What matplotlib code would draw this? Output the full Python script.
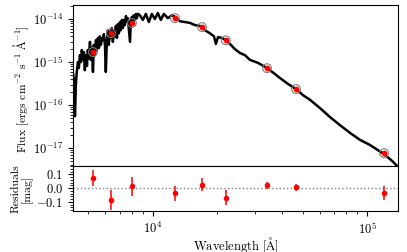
import numpy as np
import matplotlib
matplotlib.use("Agg")
import matplotlib.pyplot as plt
from matplotlib.ticker import AutoMinorLocator

plt.rcParams["font.family"] = "serif"
plt.rcParams["font.serif"] = ["cmr10", "DejaVu Serif"]
plt.rcParams["mathtext.fontset"] = "cm"
plt.rcParams["axes.formatter.use_mathtext"] = True
plt.rcParams["axes.unicode_minus"] = False

# model spectrum (log10 wavelength [A], log10 flux)
spec_logwave = [
    3.626, 3.631, 3.636, 3.640, 3.645, 3.650, 3.654, 3.659, 3.664, 3.668,
    3.673, 3.678, 3.682, 3.687, 3.692, 3.696, 3.701, 3.706, 3.710, 3.715,
    3.720, 3.724, 3.729, 3.734, 3.738, 3.743, 3.748, 3.752, 3.757, 3.762,
    3.766, 3.771, 3.776, 3.780, 3.785, 3.790, 3.794, 3.799, 3.804, 3.808,
    3.813, 3.818, 3.822, 3.827, 3.832, 3.836, 3.841, 3.846, 3.850, 3.855,
    3.860, 3.864, 3.869, 3.874, 3.879, 3.883, 3.893, 3.897, 3.902, 3.907,
    3.911, 3.916, 3.921, 3.925, 3.930, 3.939, 3.953, 3.967, 3.981, 3.995,
    4.009, 4.023, 4.037, 4.051, 4.070, 4.089, 4.103, 4.126, 4.150, 4.173,
    4.196, 4.220, 4.243, 4.266, 4.285, 4.294, 4.304, 4.322, 4.341, 4.360,
    4.383, 4.407, 4.430, 4.453, 4.491, 4.533, 4.565, 4.593, 4.631, 4.668,
    4.701, 4.734, 4.780, 4.827, 4.874, 4.921, 4.967, 5.014, 5.051, 5.079,
    5.117, 5.145,
]
spec_logflux = [
    -15.23, -15.42, -16.26, -15.53, -15.19, -15.00, -15.14, -14.84, -15.00, -14.72,
    -14.95, -14.77, -15.19, -14.84, -15.09, -14.72, -14.91, -14.53, -14.95, -14.67,
    -15.23, -14.60, -14.84, -14.49, -14.72, -14.44, -14.67, -14.40, -14.60, -14.45,
    -14.49, -14.35, -14.60, -15.23, -14.49, -14.26, -14.60, -14.30, -14.44, -14.21,
    -14.53, -14.26, -14.40, -14.16, -14.44, -14.12, -14.33, -14.07, -14.26, -14.02,
    -14.21, -14.02, -14.14, -13.93, -14.07, -13.98, -14.53, -14.02, -13.95, -14.07,
    -13.91, -14.02, -13.88, -13.98, -13.88, -13.91, -14.02, -13.88, -14.07, -13.88,
    -14.00, -13.86, -14.02, -13.88, -13.98, -13.91, -13.95, -14.05, -14.07, -14.09,
    -14.14, -14.16, -14.26, -14.33, -14.40, -14.58, -14.42, -14.44, -14.49, -14.58,
    -14.70, -14.79, -14.84, -14.95, -15.02, -15.14, -15.26, -15.37, -15.51, -15.63,
    -15.77, -15.88, -16.07, -16.28, -16.47, -16.65, -16.81, -16.93, -17.05, -17.14,
    -17.30, -17.44,
]

# photometry
phot_wave = [5250, 6370, 7980, 12670, 16950, 21900, 34100, 46600, 120000]
phot_flux = [1.71e-15, 4.7e-15, 8.1e-15, 1.05e-14, 6.5e-15, 3.2e-15, 7.2e-16, 2.35e-16, 7.6e-18]
resid = [0.073, -0.086, 0.014, -0.038, 0.026, -0.069, 0.021, 0.005, -0.038]
resid_err = [0.06, 0.07, 0.07, 0.055, 0.05, 0.055, 0.025, 0.028, 0.05]

wave = 10 ** np.array(spec_logwave)
flux = 10 ** np.array(spec_logflux)

fs = 9

fig = plt.figure(figsize=(4.07, 2.52), dpi=100)
ax = fig.add_axes([0.179, 0.341, 0.799, 0.639])
axr = fig.add_axes([0.179, 0.163, 0.799, 0.178], sharex=ax)

ax.plot(wave, flux, color="black", lw=1.8, zorder=1)
ax.scatter(phot_wave, phot_flux, s=40, facecolor="none", edgecolor="gray", lw=0.8, zorder=2)
ax.scatter(phot_wave, phot_flux, s=10, color="red", zorder=3)
ax.set_xscale("log")
ax.set_yscale("log")
ax.set_xlim(4227, 139600)
ax.set_ylim(10 ** -17.42, 10 ** -13.674)
ax.set_ylabel(r"Flux [ergs cm$^{-2}$ s$^{-1}$ $\mathrm{\AA}^{-1}$]", fontsize=8.3)
ax.yaxis.set_label_coords(-0.128, 0.48)
ax.tick_params(labelbottom=False, labelsize=fs)

axr.axhline(0, color="gray", ls=":", lw=1)
axr.errorbar(phot_wave, resid, yerr=resid_err, fmt="o", color="red", ms=3, lw=1.1)
axr.set_ylim(-0.165, 0.16)
axr.set_yticks([-0.1, 0.0, 0.1])
axr.set_yticklabels([r"$-0.1$", r"$0.0$", r"$0.1$"])
axr.yaxis.set_minor_locator(AutoMinorLocator())
axr.set_ylabel("Residuals\n[mag]", fontsize=8.5, linespacing=1.0)
axr.yaxis.set_label_coords(-0.125, 0.49)
axr.set_xlabel(r"Wavelength [$\mathrm{\AA}$]", fontsize=fs)
axr.xaxis.set_label_coords(0.5, -0.54)
axr.tick_params(labelsize=fs)

fig.savefig("out.png", dpi=100)
